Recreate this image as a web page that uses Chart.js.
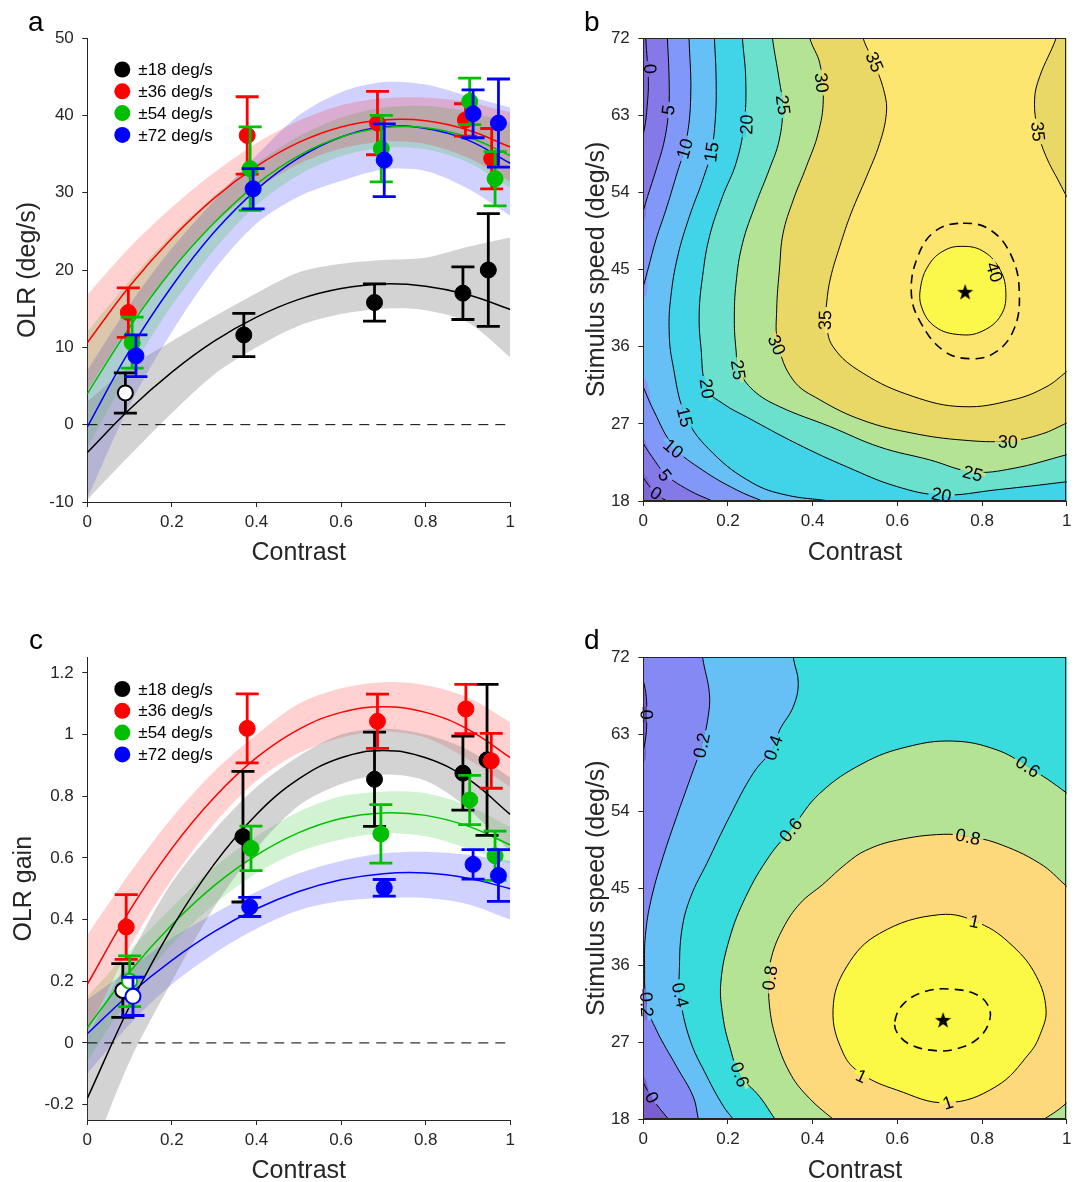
<!DOCTYPE html>
<html>
<head>
<meta charset="utf-8">
<title>OLR vs contrast</title>
<script src="https://cdn.jsdelivr.net/npm/chart.js@4.4.1/dist/chart.umd.min.js"></script>
<style>
  html, body { margin: 0; padding: 0; background: #fff; }
  body { position: relative; width: 1077px; height: 1182px; overflow: hidden; font-family: "Liberation Sans", Arial, sans-serif; }
  canvas { position: absolute; }
  .tag { position: absolute; font-size: 28px; line-height: 28px; color: #000; }
</style>
</head>
<body>
<canvas id="olr" width="540" height="564" style="left:0;top:0"></canvas>
<canvas id="olrMap" width="517" height="564" style="left:560px;top:0"></canvas>
<canvas id="gain" width="540" height="564" style="left:0;top:618px"></canvas>
<canvas id="gainMap" width="517" height="564" style="left:560px;top:618px"></canvas>
<div class="tag" style="left:28px;top:8px">a</div>
<div class="tag" style="left:584px;top:8px">b</div>
<div class="tag" style="left:29px;top:626px">c</div>
<div class="tag" style="left:584px;top:626px">d</div>
<script>
// ---------------- data ----------------
var speedNames = ['\u00b118 deg/s', '\u00b136 deg/s', '\u00b154 deg/s', '\u00b172 deg/s'];

var contrastTicks = [0, 0.2, 0.4, 0.6, 0.8, 1];
var contrastLabels = ['0', '0.2', '0.4', '0.6', '0.8', '1'];
var olrTicks = [-10, 0, 10, 20, 30, 40, 50];
var olrLabels = ['-10', '0', '10', '20', '30', '40', '50'];
var gainTicks = [-0.2, 0, 0.2, 0.4, 0.6, 0.8, 1, 1.2];
var gainLabels = ['-0.2', '0', '0.2', '0.4', '0.6', '0.8', '1', '1.2'];
var speedTicks = [18, 27, 36, 45, 54, 63, 72];
var speedLabels = ['18', '27', '36', '45', '54', '63', '72'];

// contrast where the fitted curves and their bands were read
var fitX = [0, 0.1, 0.2, 0.3, 0.4, 0.5, 0.6, 0.7, 0.8, 0.9, 1];

// panel a: OLR (deg/s)
var aC18 = [0.090, 0.370, 0.679, 0.888, 0.948];
var aC36 = [0.097, 0.378, 0.686, 0.894, 0.956];
var aC54 = [0.106, 0.385, 0.695, 0.904, 0.964];
var aC72 = [0.115, 0.392, 0.702, 0.912, 0.972];
var aOlr18 = [4.1, 11.6, 15.8, 17.0, 20.0];
var aOlr36 = [14.5, 37.4, 39.0, 39.4, 34.4];
var aOlr54 = [10.6, 33.1, 35.7, 41.8, 31.8];
var aOlr72 = [8.9, 30.5, 34.2, 40.2, 39.0];
var aErr18 = [2.6, 2.8, 2.4, 3.4, 7.3];
var aErr36 = [3.2, 5.0, 4.1, 2.1, 3.9];
var aErr54 = [3.3, 5.4, 4.3, 3.0, 3.5];
var aErr72 = [2.7, 2.6, 4.7, 3.1, 5.7];
var aOpen18 = [1, 0, 0, 0, 0];
var aOpen36 = [0, 0, 0, 0, 0];
var aOpen54 = [0, 0, 0, 0, 0];
var aOpen72 = [0, 0, 0, 0, 0];
var aFit18 = [-3.6, 2.0, 6.8, 10.8, 13.9, 16.2, 17.6, 18.2, 17.9, 16.8, 14.9];
var aFit36 = [10.6, 17.9, 24.1, 29.3, 33.4, 36.5, 38.5, 39.4, 39.3, 38.1, 35.9];
var aFit54 = [4.0, 12.6, 20.0, 26.1, 31.1, 34.8, 37.2, 38.4, 38.4, 37.2, 34.8];
var aFit72 = [-0.3, 9.6, 17.9, 24.9, 30.4, 34.5, 37.2, 38.5, 38.3, 36.8, 33.8];
var aLo18 = [-9.7, -4.0, 1.5, 6.5, 10.0, 12.8, 14.3, 15.0, 14.8, 13.2, 8.7];
var aHi18 = [3.0, 7.5, 10.8, 14.0, 17.0, 19.7, 20.8, 21.3, 21.6, 23.0, 24.2];
var aLo36 = [4.4, 12.9, 20.1, 26.0, 30.4, 33.7, 35.7, 36.6, 36.3, 34.5, 31.4];
var aHi36 = [16.8, 22.9, 28.1, 32.6, 36.4, 39.3, 41.3, 42.2, 42.3, 41.7, 40.4];
var aLo54 = [-3.0, 6.8, 15.4, 22.6, 28.4, 32.3, 34.7, 35.8, 35.6, 33.9, 30.6];
var aHi54 = [12.0, 18.6, 24.6, 29.6, 33.8, 37.3, 39.7, 41.0, 41.2, 40.5, 39.0];
var aLo72 = [-9.5, 2.5, 12.0, 20.0, 26.0, 29.5, 31.5, 33.0, 32.8, 30.5, 27.0];
var aHi72 = [7.0, 15.5, 22.8, 29.0, 34.8, 40.0, 43.0, 44.3, 44.0, 42.5, 41.0];

// panel c: OLR gain
var cC18 = [0.084, 0.368, 0.679, 0.888, 0.945];
var cC36 = [0.092, 0.378, 0.686, 0.895, 0.955];
var cC54 = [0.100, 0.387, 0.694, 0.904, 0.964];
var cC72 = [0.108, 0.384, 0.702, 0.912, 0.972];
var cGain18 = [0.170, 0.669, 0.855, 0.875, 0.918];
var cGain36 = [0.376, 1.020, 1.043, 1.083, 0.915];
var cGain54 = [0.200, 0.631, 0.678, 0.788, 0.607];
var cGain72 = [0.151, 0.441, 0.503, 0.579, 0.543];
var cErr18 = [0.087, 0.212, 0.153, 0.120, 0.245];
var cErr36 = [0.105, 0.112, 0.088, 0.080, 0.089];
var cErr54 = [0.082, 0.072, 0.095, 0.080, 0.080];
var cErr72 = [0.062, 0.031, 0.027, 0.048, 0.084];
var cOpen18 = [1, 0, 0, 0, 0];
var cOpen36 = [0, 0, 0, 0, 0];
var cOpen54 = [1, 0, 0, 0, 0];
var cOpen72 = [1, 0, 0, 0, 0];
var cFit18 = [-0.18, 0.119, 0.373, 0.580, 0.741, 0.856, 0.925, 0.948, 0.925, 0.856, 0.741];
var cFit36 = [0.19, 0.429, 0.631, 0.796, 0.925, 1.017, 1.072, 1.09, 1.072, 1.017, 0.925];
var cFit54 = [0.05, 0.230, 0.383, 0.510, 0.609, 0.682, 0.728, 0.746, 0.738, 0.703, 0.642];
var cFit72 = [0.03, 0.158, 0.268, 0.361, 0.435, 0.491, 0.529, 0.549, 0.551, 0.534, 0.500];
var cLo18 = [-0.40, -0.06, 0.20, 0.44, 0.63, 0.77, 0.84, 0.87, 0.85, 0.76, 0.62];
var cHi18 = [0.02, 0.28, 0.52, 0.69, 0.83, 0.93, 1.00, 1.02, 1.00, 0.95, 0.86];
var cLo36 = [0.03, 0.31, 0.53, 0.71, 0.85, 0.94, 0.99, 1.01, 0.99, 0.92, 0.83];
var cHi36 = [0.35, 0.55, 0.73, 0.88, 1.00, 1.10, 1.15, 1.17, 1.16, 1.12, 1.04];
var cLo54 = [-0.06, 0.15, 0.32, 0.45, 0.55, 0.62, 0.66, 0.68, 0.67, 0.63, 0.58];
var cHi54 = [0.15, 0.30, 0.44, 0.57, 0.67, 0.75, 0.80, 0.815, 0.81, 0.77, 0.70];
var cLo72 = [-0.10, 0.06, 0.19, 0.29, 0.37, 0.43, 0.46, 0.47, 0.47, 0.45, 0.40];
var cHi72 = [0.14, 0.24, 0.34, 0.42, 0.49, 0.55, 0.59, 0.615, 0.62, 0.61, 0.59];

// panel b: OLR contour lines, [contrast, speed] (a little past the frame where they leave it)
var b0a = [[0.007, 73.5], [0.006, 72], [0.012, 67], [0.009, 64], [0.003, 61.5], [-0.008, 59.5]];
var b0b = [[-0.01, 21.4], [0.029, 18.9], [0.07, 17.6]];
var b5a = [[0.056, 73.5], [0.057, 72], [0.061, 67.1], [0.06, 63.7], [0.05, 60.1], [0.03, 56.6], [0.01, 53.5], [-0.008, 50.5]];
var b5b = [[-0.01, 25.5], [0.02, 23.2], [0.055, 21.0], [0.11, 19.2], [0.163, 18], [0.18, 17.6]];
var b10a = [[0.107, 73.5], [0.108, 72], [0.112, 65.2], [0.101, 59.9], [0.077, 55.8], [0.053, 51.9], [0.03, 48.5], [0.012, 45.2], [-0.008, 41.5]];
var b10b = [[-0.01, 32.5], [0.025, 28.5], [0.073, 24.3], [0.14, 21.6], [0.22, 19.3], [0.281, 18], [0.3, 17.6]];
var b15 = [[0.167, 73.5], [0.168, 72], [0.172, 67.1], [0.17, 62.5], [0.16, 58.7], [0.14, 55.4], [0.109, 51.2], [0.081, 46.5], [0.065, 41.8], [0.061, 37.9], [0.069, 34.1], [0.101, 27.8], [0.164, 23.6], [0.258, 20.1], [0.337, 18.7], [0.44, 18], [0.47, 17.7]];
var b20 = [[0.233, 73.5], [0.234, 72], [0.242, 67.1], [0.238, 61.9], [0.219, 57.4], [0.187, 53.5], [0.156, 48.8], [0.14, 44.2], [0.132, 39.9], [0.136, 36.0], [0.15, 31.1], [0.19, 29.3], [0.244, 27.8], [0.362, 24.7], [0.48, 22.0], [0.598, 19.7], [0.704, 18.7], [0.833, 19.3], [1.0, 20.25], [1.012, 20.4]];
var b25 = [[0.304, 73.5], [0.305, 72], [0.321, 67.1], [0.329, 64.0], [0.321, 60.1], [0.297, 56.6], [0.266, 52.7], [0.234, 48.0], [0.219, 43.4], [0.215, 39.1], [0.219, 35.6], [0.226, 33.3], [0.26, 30.9], [0.322, 29.0], [0.44, 26.7], [0.558, 24.3], [0.676, 22.8], [0.778, 21.4], [0.873, 21.8], [1.0, 23.4], [1.012, 23.6]];
var b30 = [[0.392, 73.5], [0.393, 72], [0.417, 69.0], [0.425, 64.8], [0.413, 60.9], [0.385, 57.0], [0.354, 53.1], [0.33, 49.2], [0.322, 45.3], [0.315, 40.3], [0.318, 36.4], [0.354, 32.1], [0.417, 29.8], [0.519, 27.4], [0.637, 25.9], [0.755, 25.1], [0.861, 25.0], [0.94, 25.8], [1.0, 27.1], [1.012, 27.4]];
var b35a = [[0.518, 73.5], [0.519, 72], [0.546, 69.0], [0.57, 65.5], [0.574, 63.2], [0.558, 59.7], [0.527, 55.8], [0.491, 51.6], [0.464, 47.7], [0.442, 44.0], [0.433, 41.1], [0.432, 39.1], [0.448, 36.0], [0.519, 32.9], [0.637, 30.2], [0.755, 29.0], [0.873, 29.8], [0.951, 31.3], [1.0, 33.1], [1.012, 33.6]];
var b35b = [[0.98, 73.5], [0.975, 72], [0.936, 67.5], [0.924, 64.8], [0.932, 61.1], [0.951, 58.2], [0.983, 55.1], [1.0, 53.5], [1.012, 52.5]];
var b40 = [[0.75, 47.7], [0.80, 47.2], [0.84, 45.2], [0.856, 42.5], [0.845, 39.7], [0.80, 37.8], [0.747, 37.4], [0.69, 38.3], [0.658, 40.5], [0.655, 43.0], [0.675, 45.6], [0.71, 47.2]];
var bRing = [[0.755, 50.4], [0.82, 49.6], [0.87, 46.5], [0.888, 42.2], [0.875, 38.0], [0.83, 35.3], [0.771, 34.6], [0.71, 35.5], [0.655, 38.8], [0.633, 42.2], [0.648, 46.5], [0.69, 49.5]];
var bPeak = [0.760, 42.4];
var bLevels = ['<0', '0', '5', '10', '15', '20', '25', '30', '35', '40'];
var bLabels = [['0', 0.016, 68.4], ['5', 0.059, 63.6], ['10', 0.098, 59.1], ['15', 0.161, 58.7], ['20', 0.244, 61.9], ['25', 0.330, 64.2], ['30', 0.421, 66.8], ['35', 0.546, 69.2], ['35', 0.932, 61.1], ['40', 0.829, 44.7],
  ['35', 0.429, 39.1], ['30', 0.315, 36.2], ['25', 0.224, 33.3], ['20', 0.150, 31.1], ['15', 0.098, 27.8], ['10', 0.071, 24.1], ['5', 0.051, 21.0], ['0', 0.030, 18.9], ['30', 0.861, 24.9], ['25', 0.778, 21.2], ['20', 0.704, 18.7]];

// panel d: OLR gain contour lines
var d0a = [[-0.008, 70.5], [0.0, 69.3], [0.007, 67.4], [0.008, 65.3], [0.006, 62.7], [-0.008, 59.5]];
var d0b = [[-0.01, 23.2], [0.02, 20.5], [0.059, 18], [0.07, 17.4]];
var d02 = [[0.139, 73.5], [0.14, 72], [0.156, 67.8], [0.153, 65], [0.138, 61.7], [0.11, 57.7], [0.079, 53.4], [0.047, 48.7], [0.02, 44.0], [0.006, 40], [0.003, 36.2], [0.008, 31.4], [0.031, 28.4], [0.079, 24.1], [0.118, 20.6], [0.13, 18], [0.133, 17.5]];
var d04 = [[0.353, 73.5], [0.354, 72], [0.366, 69.0], [0.354, 66.2], [0.322, 63.5], [0.307, 61.4], [0.259, 58.4], [0.204, 53.4], [0.15, 47.9], [0.112, 44.0], [0.091, 40.1], [0.085, 35.1], [0.086, 32.5], [0.11, 27.3], [0.15, 23.0], [0.189, 19.5], [0.212, 18], [0.22, 17.5]];
var d06 = [[1.012, 55.2], [1.0, 56.1], [0.908, 59.2], [0.833, 61.2], [0.731, 62.2], [0.621, 61.5], [0.519, 59.6], [0.417, 56.1], [0.348, 51.8], [0.297, 48.7], [0.242, 44.0], [0.203, 39.0], [0.183, 33.9], [0.188, 30], [0.204, 26.5], [0.228, 23.2], [0.275, 20.6], [0.311, 18], [0.32, 17.5]];
var d08 = [[1.012, 44.6], [1.0, 45.2], [0.936, 47.9], [0.833, 50.3], [0.767, 51.0], [0.708, 51.3], [0.598, 50.6], [0.525, 49.4], [0.48, 47.9], [0.423, 45.4], [0.37, 43.2], [0.33, 40.3], [0.303, 37.0], [0.297, 34.5], [0.298, 31.2], [0.313, 27.5], [0.345, 23.5], [0.385, 20.8], [0.448, 18], [0.47, 17.4]];
var d08b = [[0.93, 17.4], [0.947, 18], [0.975, 18.9], [1.0, 19.9], [1.012, 20.5]];
var d1 = [[0.70, 41.9], [0.794, 40.9], [0.873, 38.2], [0.928, 34.7], [0.951, 30.8], [0.938, 28.0], [0.912, 25.7], [0.833, 21.8], [0.716, 19.9], [0.598, 21.4], [0.515, 23.3], [0.472, 25.7], [0.448, 30.8], [0.48, 35.8], [0.558, 39.7]];
var dRing = [[0.594, 29.4], [0.615, 31.5], [0.665, 32.9], [0.723, 33.2], [0.785, 32.6], [0.815, 31.2], [0.817, 29.4], [0.79, 27.4], [0.74, 26.2], [0.69, 26.0], [0.635, 26.6], [0.602, 27.9]];
var dPeak = [0.708, 29.6];
var dLevels = ['<0', '0', '0.2', '0.4', '0.6', '0.8', '1'];
var dLabels = [['0', 0.008, 65.3], ['0.2', 0.138, 61.7], ['0.4', 0.307, 61.4], ['0.6', 0.908, 59.2], ['0.6', 0.348, 51.8], ['0.8', 0.767, 51.0], ['0.8', 0.299, 34.5],
  ['0.4', 0.087, 32.5], ['0.2', 0.008, 31.4], ['0.6', 0.228, 23.2], ['0', 0.020, 20.5], ['1', 0.782, 41.1], ['1', 0.515, 23.0], ['1', 0.719, 19.9]];

// ---------------- styles ----------------
var ink = '#262626';
var seriesColors = ['#000000', '#ff0000', '#00bf00', '#0000ff'];
var bandColors = ['rgba(128,128,128,0.35)', 'rgba(255,0,0,0.18)', 'rgba(0,191,0,0.18)', 'rgba(0,0,255,0.18)'];
var bColors = ['#7d66d9', '#8578e7', '#8298f9', '#66bff5', '#41d4e8', '#6be0cc', '#b5e394', '#e9d866', '#fde66f', '#fcf84b'];
var dColors = ['#7c5fcf', '#8589f4', '#66bff5', '#38dcdc', '#b5e394', '#fdd97b', '#fbf945'];

Chart.defaults.font.family = '"Liberation Sans", Arial, Helvetica, sans-serif';
Chart.defaults.font.size = 17;
Chart.defaults.color = ink;

// ---------------- helpers ----------------
function xyPts(xs, ys) {
  return xs.map(function (x, i) { return {x: x, y: ys[i]}; });
}
function pairPts(a) {
  return a.map(function (p) { return {x: p[0], y: p[1]}; });
}
// closed curve: wrap one point each side so the spline has no seam
function ringPts(a) {
  return pairPts([a[a.length - 1]].concat(a, [a[0], a[1]]));
}
function errPts(cx, v, e) {
  var d = [];
  for (var i = 0; i < cx.length; i++) {
    d.push({x: cx[i], y: v[i] - e[i]});
    d.push({x: cx[i], y: v[i] + e[i]});
    d.push({x: cx[i], y: null});
  }
  return d;
}

function axisOpts(o) {
  return {
    type: 'linear', min: o.min, max: o.max,
    afterBuildTicks: function (s) { s.ticks = o.ticks.map(function (v) { return {value: v}; }); },
    afterFit: function (s) { if (s.isHorizontal()) s.height = o.size; else s.width = o.size; },
    border: {display: true, color: ink, width: 1},
    grid: {drawOnChartArea: false, drawTicks: true, tickLength: 5, color: ink, lineWidth: 1},
    ticks: {color: ink, padding: o.pad, maxRotation: 0, autoSkip: false, font: {size: 17},
      callback: function (v, i) { return o.labels[i]; }},
    title: {display: true, text: o.title, color: ink, font: {size: 25, lineHeight: 0.9}, padding: o.titlePad}
  };
}

var starImg = document.createElement('canvas');
starImg.width = 20; starImg.height = 20;
(function () {
  var g = starImg.getContext('2d');
  g.beginPath();
  for (var i = 0; i < 10; i++) {
    var r = i % 2 ? 3.4 : 8.5, t = -Math.PI / 2 + i * Math.PI / 5;
    g.lineTo(10 + r * Math.cos(t), 10.8 + r * Math.sin(t));
  }
  g.closePath();
  g.fillStyle = '#000';
  g.fill();
})();

function dotLegend(names, colors) {
  return {
    id: 'dotLegend',
    afterDatasetsDraw: function (chart) {
      var ctx = chart.ctx, a = chart.chartArea;
      ctx.save();
      ctx.font = '17px "Liberation Sans", Arial, sans-serif';
      ctx.textBaseline = 'middle';
      ctx.textAlign = 'left';
      names.forEach(function (n, i) {
        var y = a.top + 31.5 + i * 21.8;
        ctx.beginPath();
        ctx.arc(a.left + 35, y, 8, 0, Math.PI * 2);
        ctx.fillStyle = colors[i];
        ctx.fill();
        ctx.fillStyle = '#000';
        ctx.fillText(n, a.left + 51, y + 1);
      });
      ctx.restore();
    }
  };
}

var framePlugin = {
  id: 'frame',
  afterDatasetsDraw: function (chart) {
    var a = chart.chartArea, ctx = chart.ctx;
    ctx.save();
    ctx.strokeStyle = ink;
    ctx.lineWidth = 1;
    ctx.strokeRect(Math.round(a.left) + 0.5, Math.round(a.top) + 0.5, Math.round(a.right - a.left) - 1, Math.round(a.bottom - a.top) - 1);
    ctx.restore();
  }
};

// angle of the nearest contour segment, kept readable
function lineAngle(xs, ys, pieces, px, py) {
  var best = 1e12, ang = 0;
  pieces.forEach(function (p) {
    for (var i = 0; i < p.length - 1; i++) {
      var ax = xs.getPixelForValue(p[i][0]), ay = ys.getPixelForValue(p[i][1]);
      var bx = xs.getPixelForValue(p[i + 1][0]), by = ys.getPixelForValue(p[i + 1][1]);
      var dx = bx - ax, dy = by - ay, L = dx * dx + dy * dy;
      var t = L ? Math.max(0, Math.min(1, ((px - ax) * dx + (py - ay) * dy) / L)) : 0;
      var ex = ax + t * dx - px, ey = ay + t * dy - py, d = ex * ex + ey * ey;
      if (d < best) { best = d; ang = Math.atan2(dy, dx); }
    }
  });
  if (ang > Math.PI / 2) ang -= Math.PI;
  if (ang < -Math.PI / 2) ang += Math.PI;
  return ang;
}

// brightest pixel a few px to one side of the line (the fill colour there)
function sideColour(ctx, px, py, nx, ny) {
  var best = null, lum = -1;
  [4, 5, 6, 7].forEach(function (d) {
    var p = ctx.getImageData(Math.round(px + nx * d), Math.round(py + ny * d), 1, 1).data;
    var l = p[0] + p[1] + p[2];
    if (l > lum) { lum = l; best = 'rgb(' + p[0] + ',' + p[1] + ',' + p[2] + ')'; }
  });
  return best;
}

function contourLabels(labels, pieces) {
  return {
    id: 'contourLabels',
    afterDatasetsDraw: function (chart) {
      var ctx = chart.ctx, xs = chart.scales.x, ys = chart.scales.y;
      ctx.save();
      ctx.font = '18px "Liberation Sans", Arial, sans-serif';
      var items = labels.map(function (l) {
        var px = xs.getPixelForValue(l[1]), py = ys.getPixelForValue(l[2]);
        var ang = lineAngle(xs, ys, pieces, px, py);
        var s = Math.sin(ang), c = Math.cos(ang);
        return {text: l[0], px: px, py: py, ang: ang, w: ctx.measureText(l[0]).width,
          up: sideColour(ctx, px, py, s, -c), dn: sideColour(ctx, px, py, -s, c)};
      });
      ctx.fillStyle = '#000';
      ctx.textAlign = 'center';
      ctx.textBaseline = 'middle';
      items.forEach(function (it) {
        ctx.save();
        ctx.translate(it.px, it.py);
        ctx.rotate(it.ang);
        var hw = it.w / 2 + 3;
        ctx.fillStyle = it.up;
        ctx.fillRect(-hw, -4, hw * 2, 4);
        ctx.fillStyle = it.dn;
        ctx.fillRect(-hw, 0, hw * 2, 4);
        ctx.fillStyle = '#000';
        ctx.fillText(it.text, 0, 1);
        ctx.restore();
      });
      ctx.restore();
    }
  };
}

// ---------------- scatter panels (a, c) ----------------
function olrChart(id, series, yAxis, top) {
  var datasets = [];
  datasets.push({data: [{x: 0, y: 0}, {x: 1, y: 0}], showLine: true, borderColor: '#000', borderWidth: 1,
    borderDash: [10, 7], pointRadius: 0, order: 60});
  series.forEach(function (s, k) {
    datasets.push({data: xyPts(fitX, s.lo), showLine: true, borderWidth: 0, pointRadius: 0, tension: 0.3, fill: false, order: 100});
    datasets.push({data: xyPts(fitX, s.hi), showLine: true, borderWidth: 0, pointRadius: 0, tension: 0.3, fill: '-1',
      backgroundColor: bandColors[k], order: 100});
  });
  series.forEach(function (s, k) {
    datasets.push({data: xyPts(fitX, s.fit), showLine: true, borderColor: seriesColors[k], borderWidth: 1.5,
      pointRadius: 0, tension: 0.4, order: 50});
  });
  series.forEach(function (s, k) {
    var c = seriesColors[k], base = 40 - 10 * k;
    datasets.push({data: errPts(s.c, s.v, s.e), showLine: true, borderColor: c, borderWidth: 2.8,
      pointStyle: 'line', pointRadius: 11.5, pointBorderWidth: 2.8, pointBorderColor: c, order: base + 1});
    datasets.push({data: xyPts(s.c, s.v), pointStyle: 'circle',
      pointRadius: s.open.map(function (o) { return o ? 7.5 : 8; }),
      pointBorderWidth: s.open.map(function (o) { return o ? 2 : 1; }),
      pointBackgroundColor: s.open.map(function (o) { return o ? '#ffffff' : c; }),
      pointBorderColor: c, order: base});
  });

  return new Chart(document.getElementById(id), {
    type: 'scatter',
    data: {datasets: datasets},
    options: {
      responsive: false, animation: false, events: [],
      layout: {padding: {left: 0, top: top, right: 29.7, bottom: 0}},
      plugins: {legend: {display: false}, tooltip: {enabled: false}},
      elements: {line: {capBezierPoints: false}},
      scales: {
        x: axisOpts({min: 0, max: 1, ticks: contrastTicks, labels: contrastLabels, size: 563 - 501, pad: 5.5,
          title: 'Contrast', titlePad: {top: 0, bottom: 0}}),
        y: yAxis
      }
    },
    plugins: [dotLegend(speedNames, seriesColors)]
  });
}

// ---------------- contour panels (b, d) ----------------
function contourChart(id, regions, colors, lines, ring, peak, labels, top) {
  var datasets = [];
  regions.forEach(function (r, i) {
    datasets.push({data: r, showLine: true, fill: 'shape', backgroundColor: colors[i], borderWidth: 0,
      pointRadius: 0, tension: i === 0 ? 0 : 0.4, order: 300 - i});
  });
  lines.forEach(function (l) {
    var n = l.pts.length;
    datasets.push({data: l.loop ? ringPts(l.pts) : pairPts(l.pts), showLine: true, borderColor: '#000', borderWidth: 1,
      pointRadius: 0, tension: 0.4, order: 20,
      segment: {borderColor: function (c) { return (l.loop && (c.p0DataIndex === 0 || c.p0DataIndex === n + 1)) ? 'rgba(0,0,0,0)' : '#000'; }}});
  });
  var rn = ring.length;
  datasets.push({data: ringPts(ring), showLine: true, borderColor: '#000', borderWidth: 1.6, borderDash: [9, 6],
    pointRadius: 0, tension: 0.4, order: 15,
    segment: {borderColor: function (c) { return (c.p0DataIndex === 0 || c.p0DataIndex === rn + 1) ? 'rgba(0,0,0,0)' : '#000'; }}});
  datasets.push({data: [{x: peak[0], y: peak[1]}], pointStyle: starImg, pointRadius: 9, order: 5});

  var pieces = lines.map(function (l) { return l.pts; });
  return new Chart(document.getElementById(id), {
    type: 'scatter',
    data: {datasets: datasets},
    options: {
      responsive: false, animation: false, events: [],
      layout: {padding: {left: 0, top: top, right: 9.7, bottom: 0}},
      plugins: {legend: {display: false}, tooltip: {enabled: false}},
      elements: {line: {capBezierPoints: false}},
      scales: {
        x: axisOpts({min: 0, max: 1, ticks: contrastTicks, labels: contrastLabels, size: 564 - 501, pad: 5.5,
          title: 'Contrast', titlePad: {top: 0, bottom: 0}}),
        y: axisOpts({min: 18, max: 72, ticks: speedTicks, labels: speedLabels, size: 83.3, pad: 8.5,
          title: 'Stimulus speed (deg/s)', titlePad: {top: 26, bottom: 0}})
      }
    },
    plugins: [contourLabels(labels, pieces), framePlugin]
  });
}

// ---------------- build ----------------
olrChart('olr', [
  {c: aC18, v: aOlr18, e: aErr18, open: aOpen18, fit: aFit18, lo: aLo18, hi: aHi18},
  {c: aC36, v: aOlr36, e: aErr36, open: aOpen36, fit: aFit36, lo: aLo36, hi: aHi36},
  {c: aC54, v: aOlr54, e: aErr54, open: aOpen54, fit: aFit54, lo: aLo54, hi: aHi54},
  {c: aC72, v: aOlr72, e: aErr72, open: aOpen72, fit: aFit72, lo: aLo72, hi: aHi72}
], axisOpts({min: -10, max: 50, ticks: olrTicks, labels: olrLabels, size: 87.3, pad: 8.5,
  title: 'OLR (deg/s)', titlePad: {top: 17, bottom: 0}}), 38);

olrChart('gain', [
  {c: cC18, v: cGain18, e: cErr18, open: cOpen18, fit: cFit18, lo: cLo18, hi: cHi18},
  {c: cC36, v: cGain36, e: cErr36, open: cOpen36, fit: cFit36, lo: cLo36, hi: cHi36},
  {c: cC54, v: cGain54, e: cErr54, open: cOpen54, fit: cFit54, lo: cLo54, hi: cHi54},
  {c: cC72, v: cGain72, e: cErr72, open: cOpen72, fit: cFit72, lo: cLo72, hi: cHi72}
], axisOpts({min: -0.25, max: 1.25, ticks: gainTicks, labels: gainLabels, size: 87.3, pad: 8.5,
  title: 'OLR gain', titlePad: {top: 12.5, bottom: 0}}), 39.5);

// regions where the surface is at or above each level, painted lowest first
var L = -0.5, R = 1.5, T = 90, B = -5;
var bRegions = [
  pairPts([[L, B], [R, B], [R, T], [L, T]]),
  pairPts(b0a.concat([[L, 59.5], [L, 21.4]], b0b, [[0.5, B], [R, B], [R, T], [0.0, T]])),
  pairPts(b5a.concat([[L, 50.5], [L, 25.5]], b5b, [[0.5, B], [R, B], [R, T], [0.05, T]])),
  pairPts(b10a.concat([[L, 41.5], [L, 32.5]], b10b, [[0.6, B], [R, B], [R, T], [0.1, T]])),
  pairPts(b15.concat([[0.7, B], [R, B], [R, T], [0.16, T]])),
  pairPts(b20.concat([[R, 20.4], [R, T], [0.23, T]])),
  pairPts(b25.concat([[R, 23.6], [R, T], [0.3, T]])),
  pairPts(b30.concat([[R, 27.4], [R, T], [0.39, T]])),
  pairPts(b35a.concat([[R, 33.6], [R, 52.5]], b35b.slice().reverse(), [[0.75, T]])),
  ringPts(b40)
];
contourChart('olrMap', bRegions, bColors,
  [{pts: b0a}, {pts: b0b}, {pts: b5a}, {pts: b5b}, {pts: b10a}, {pts: b10b}, {pts: b15}, {pts: b20}, {pts: b25},
   {pts: b30}, {pts: b35a}, {pts: b35b}, {pts: b40, loop: true}],
  bRing, bPeak, bLabels, 38);

var dRegions = [
  pairPts([[L, B], [R, B], [R, T], [L, T]]),
  pairPts(d0a.concat([[L, 59.5], [L, 23.2]], d0b, [[0.5, B], [R, B], [R, T], [L, T], [L, 70.5]])),
  pairPts(d02.concat([[0.5, B], [R, B], [R, T], [0.14, T]])),
  pairPts(d04.concat([[0.6, B], [R, B], [R, T], [0.35, T]])),
  pairPts(d06.concat([[0.7, B], [R, B], [R, 55.2]])),
  pairPts(d08.concat([[0.7, 5]], d08b, [[R, 20.5], [R, 44.6]])),
  ringPts(d1)
];
contourChart('gainMap', dRegions, dColors,
  [{pts: d0a}, {pts: d0b}, {pts: d02}, {pts: d04}, {pts: d06}, {pts: d08}, {pts: d08b}, {pts: d1, loop: true}],
  dRing, dPeak, dLabels, 39.3);
</script>
</body>
</html>
